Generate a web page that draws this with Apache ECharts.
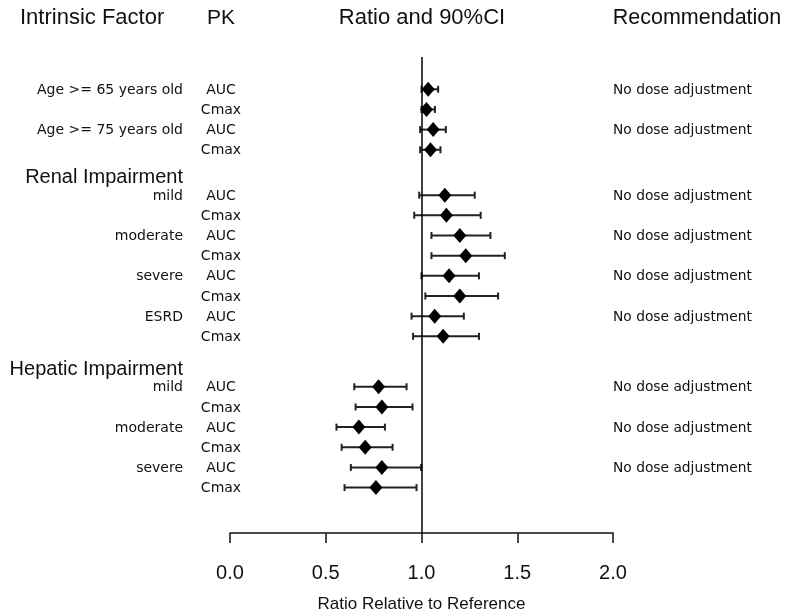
<!DOCTYPE html>
<html><head><meta charset="utf-8">
<script src="https://cdn.jsdelivr.net/npm/echarts@6/dist/echarts.min.js"></script>
<style>html,body{margin:0;padding:0;background:#fff}#c{width:785px;height:614px}</style>
</head><body><div id="c"></div>
<script>
// ---- data ----
const columnHeaders = ['Intrinsic Factor', 'PK', 'Ratio and 90%CI', 'Recommendation'];
const groupTitles = ['', 'Renal Impairment', 'Hepatic Impairment'];
const rowGroup = [0,0,0,0, 1,1,1,1,1,1,1,1, 2,2,2,2,2,2];
const rowFactor = ['Age >= 65 years old','', 'Age >= 75 years old','',
  'mild','', 'moderate','', 'severe','', 'ESRD','',
  'mild','', 'moderate','', 'severe',''];
const rowPK = ['AUC','Cmax','AUC','Cmax','AUC','Cmax','AUC','Cmax','AUC','Cmax','AUC','Cmax',
  'AUC','Cmax','AUC','Cmax','AUC','Cmax'];
const ratio = [1.035,1.026,1.061,1.047, 1.122,1.130,1.200,1.231,1.144,1.200,1.069,1.113,
  0.776,0.793,0.673,0.706,0.793,0.762];
const lower = [1.000,1.000,0.993,0.993, 0.988,0.962,1.052,1.052,1.000,1.020,0.948,0.956,
  0.649,0.656,0.556,0.583,0.631,0.598];
const upper = [1.087,1.070,1.127,1.099, 1.278,1.309,1.360,1.435,1.300,1.400,1.221,1.300,
  0.922,0.953,0.809,0.849,0.998,0.974];
const recommendation = ['No dose adjustment','', 'No dose adjustment','',
  'No dose adjustment','', 'No dose adjustment','', 'No dose adjustment','', 'No dose adjustment','',
  'No dose adjustment','', 'No dose adjustment','', 'No dose adjustment',''];
const xTicks = [0, 0.5, 1.0, 1.5, 2.0];

// ---- layout (row positions from grouping) ----
const groupExtraGap = [0, 1.25, 1.5];
const headerOffset = 0.87;
const rowPos = [];
const headerPos = [];
let p = 0;
rowGroup.forEach((g, i) => {
  if (i > 0) { p += 1; if (g !== rowGroup[i-1]) p += groupExtraGap[g]; }
  if (i === 0 || g !== rowGroup[i-1]) { if (groupTitles[g]) headerPos.push([g, p - headerOffset]); }
  rowPos.push(p);
});

const smallFont = '"DejaVu Sans", sans-serif';
const bigFont = '"Liberation Sans", Arial, sans-serif';
const txtColor = '#111';

const chart = echarts.init(document.getElementById('c'), null, {renderer: 'canvas'});
chart.setOption({
  animation: false,
  backgroundColor: '#fff',
  grid: {left: 230, right: 172, top: 57, bottom: 81, containLabel: false, outerBoundsMode: 'none'},
  xAxis: {
    type: 'value', min: xTicks[0], max: xTicks[xTicks.length-1], interval: 0.5,
    axisLine: {show: true, onZero: false, lineStyle: {color: '#111', width: 1.5}},
    axisTick: {show: true, length: 10, lineStyle: {color: '#111', width: 1.5}},
    axisLabel: {formatter: v => v.toFixed(1), fontSize: 20, color: txtColor, margin: 30, fontFamily: bigFont},
    splitLine: {show: false},
    name: 'Ratio Relative to Reference', nameLocation: 'middle', nameGap: 63,
    nameTextStyle: {fontSize: 17, color: txtColor, fontFamily: bigFont}
  },
  yAxis: {type: 'value', inverse: true, min: -1.6, max: 22, show: false},
  graphic: [
    {type: 'text', x: 20, y: 18, style: {text: columnHeaders[0], font: '22px ' + bigFont, fill: txtColor, textAlign: 'left', textVerticalAlign: 'middle'}},
    {type: 'text', x: 221, y: 18, style: {text: columnHeaders[1], font: '21px ' + bigFont, fill: txtColor, textAlign: 'center', textVerticalAlign: 'middle'}},
    {type: 'text', x: 422, y: 18, style: {text: columnHeaders[2], font: '22px ' + bigFont, fill: txtColor, textAlign: 'center', textVerticalAlign: 'middle'}},
    {type: 'text', x: 697, y: 18, style: {text: columnHeaders[3], font: '21.5px ' + bigFont, fill: txtColor, textAlign: 'center', textVerticalAlign: 'middle'}}
  ],
  series: [
    {
      type: 'custom', clip: false, silent: true,
      data: lower.map((l, i) => [l, upper[i], rowPos[i]]),
      encode: {x: [0, 1], y: 2},
      renderItem: (params, api) => {
        const a = api.coord([api.value(0), api.value(2)]);
        const b = api.coord([api.value(1), api.value(2)]);
        const h = 3.5, st = {stroke: '#222', lineWidth: 2};
        return {type: 'group', children: [
          {type: 'line', shape: {x1: a[0], y1: a[1], x2: b[0], y2: b[1]}, style: st},
          {type: 'line', shape: {x1: a[0], y1: a[1]-h, x2: a[0], y2: a[1]+h}, style: st},
          {type: 'line', shape: {x1: b[0], y1: b[1]-h, x2: b[0], y2: b[1]+h}, style: st}
        ]};
      }
    },
    {
      type: 'scatter', symbol: 'diamond', symbolSize: [13, 15], silent: true,
      itemStyle: {color: '#000', opacity: 1},
      data: ratio.map((r, i) => [r, rowPos[i]]),
      markLine: {
        silent: true, symbol: 'none', label: {show: false},
        lineStyle: {color: '#000', width: 1.5, type: 'solid'},
        data: [{xAxis: 1}]
      },
      z: 3
    },
    {
      type: 'custom', clip: false, silent: true,
      data: rowPos.map(pp => [1, pp]),
      renderItem: (params, api) => {
        const i = params.dataIndex;
        const y = api.coord([1, api.value(1)])[1] + 1;
        const ch = [];
        if (rowFactor[i]) ch.push({type: 'text', x: 183, y: y, style: {text: rowFactor[i], font: '14px ' + smallFont, fill: txtColor, textAlign: 'right', textVerticalAlign: 'middle'}});
        ch.push({type: 'text', x: 221, y: y, style: {text: rowPK[i], font: '14px ' + smallFont, fill: txtColor, textAlign: 'center', textVerticalAlign: 'middle'}});
        if (recommendation[i]) ch.push({type: 'text', x: 613, y: y, style: {text: recommendation[i], font: '13.8px ' + smallFont, fill: txtColor, textAlign: 'left', textVerticalAlign: 'middle'}});
        return {type: 'group', children: ch};
      }
    },
    {
      type: 'custom', clip: false, silent: true,
      data: headerPos.map(h => [1, h[1]]),
      renderItem: (params, api) => {
        const g = headerPos[params.dataIndex][0];
        const y = api.coord([1, api.value(1)])[1];
        return {type: 'text', x: 183, y: y, style: {text: groupTitles[g], font: '20px ' + bigFont, fill: txtColor, textAlign: 'right', textVerticalAlign: 'middle'}};
      }
    }
  ]
});
</script></body></html>
